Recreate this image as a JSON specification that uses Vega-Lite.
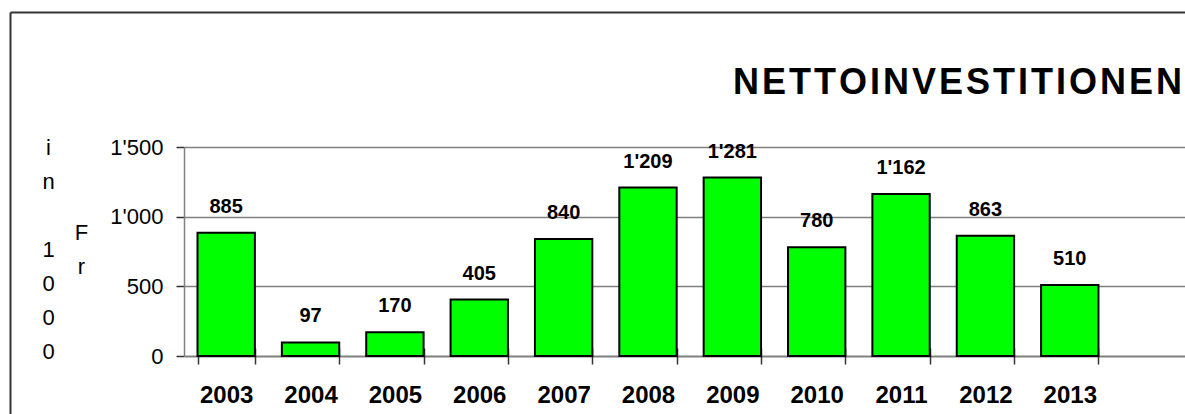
{
  "$schema": "https://vega.github.io/schema/vega-lite/v6.json",
  "width": 1001,
  "height": 209,
  "autosize": {"type": "none"},
  "padding": {"left": 184, "top": 147, "right": 0, "bottom": 58},
  "background": "white",
  "config": {"font": "Liberation Sans", "view": {"stroke": null}},
  "title": {
    "text": "N\u200aE\u200aT\u200aT\u200aO\u200aI\u200aN\u200aV\u200aE\u200aS\u200aT\u200aI\u200aT\u200aI\u200aO\u200aN\u200aE\u200aN",
    "anchor": "end",
    "frame": "group",
    "font": "Liberation Sans",
    "fontSize": 36,
    "fontWeight": "bold",
    "color": "black",
    "baseline": "alphabetic",
    "offset": -118,
    "dx": -3
  },
  "data": {
    "values": [
      {"year": "2003", "value": 885},
      {"year": "2004", "value": 97},
      {"year": "2005", "value": 170},
      {"year": "2006", "value": 405},
      {"year": "2007", "value": 840},
      {"year": "2008", "value": 1209},
      {"year": "2009", "value": 1281},
      {"year": "2010", "value": 780},
      {"year": "2011", "value": 1162},
      {"year": "2012", "value": 863},
      {"year": "2013", "value": 510}
    ]
  },
  "layer": [
    {
      "encoding": {
        "x": {
          "field": "year",
          "type": "ordinal",
          "scale": {"paddingInner": 0.32, "paddingOuter": 0.593, "align": 0.135},
          "axis": {
            "title": null,
            "labelAngle": 0,
            "tickBand": "extent",
            "domain": false,
            "grid": false,
            "offset": -8,
            "tickSize": 16,
            "tickColor": "#333333",
            "tickWidth": 1.5,
            "labelFont": "Liberation Sans",
            "labelFontSize": 24,
            "labelFontWeight": "bold",
            "labelColor": "black",
            "labelBaseline": "alphabetic",
            "labelPadding": 38
          }
        },
        "y": {
          "field": "value",
          "type": "quantitative",
          "scale": {"domain": [0, 1500], "nice": false},
          "axis": {
            "values": [0, 500, 1000, 1500],
            "labelExpr": "replace(format(datum.value, ','), ',', \"'\")",
            "labelFont": "Liberation Sans",
            "labelFontSize": 22,
            "labelColor": "black",
            "labelPadding": 13,
            "tickSize": 8,
            "tickColor": "#333333",
            "tickWidth": 1.5,
            "domainColor": "#808080",
            "domainWidth": 1.5,
            "grid": true,
            "gridColor": "#808080",
            "gridWidth": {"condition": {"test": "datum.value === 0", "value": 2}, "value": 1.5},
            "title": ["i", "\u200b", "n", "\u200b", "\u200b", "\u200b\u2003\u2003\u2003F", "1", "\u200b\u2003\u2003\u2003r", "0", "\u200b", "0", "\u200b", "0"],
            "titleAngle": 0,
            "titleAlign": "center",
            "titleBaseline": "middle",
            "titleX": -136,
            "titleY": 0,
            "titleFont": "Liberation Sans",
            "titleFontSize": 22,
            "titleFontWeight": "normal",
            "titleColor": "black",
            "titleLineHeight": 17
          }
        }
      },
      "layer": [
        {"mark": {"type": "bar", "fill": "#00ff00", "stroke": "black", "strokeWidth": 2}},
        {
          "transform": [{"calculate": "replace(format(datum.value, ','), ',', \"'\")", "as": "label"}],
          "mark": {"type": "text", "font": "Liberation Sans", "fontWeight": "bold", "fontSize": 20, "baseline": "alphabetic", "dy": -20, "color": "black"},
          "encoding": {"text": {"field": "label"}}
        }
      ]
    },
    {
      "mark": {"type": "point", "opacity": 0},
      "encoding": {
        "x": {
          "field": "value",
          "type": "quantitative",
          "scale": {"domain": [0, 1500], "range": [-174, 1001], "nice": false, "zero": false},
          "axis": {"orient": "top", "offset": 135, "domainColor": "#333333", "domainWidth": 2, "ticks": false, "labels": false, "grid": false, "title": null}
        },
        "y": {
          "field": "value",
          "type": "quantitative",
          "scale": {"domain": [0, 1500], "range": [267, -135], "nice": false, "zero": false},
          "axis": {"orient": "left", "offset": 174, "domainColor": "#333333", "domainWidth": 2, "ticks": false, "labels": false, "grid": false, "title": null}
        }
      }
    }
  ],
  "resolve": {
    "scale": {"x": "independent", "y": "independent"},
    "axis": {"x": "independent", "y": "independent"}
  }
}
